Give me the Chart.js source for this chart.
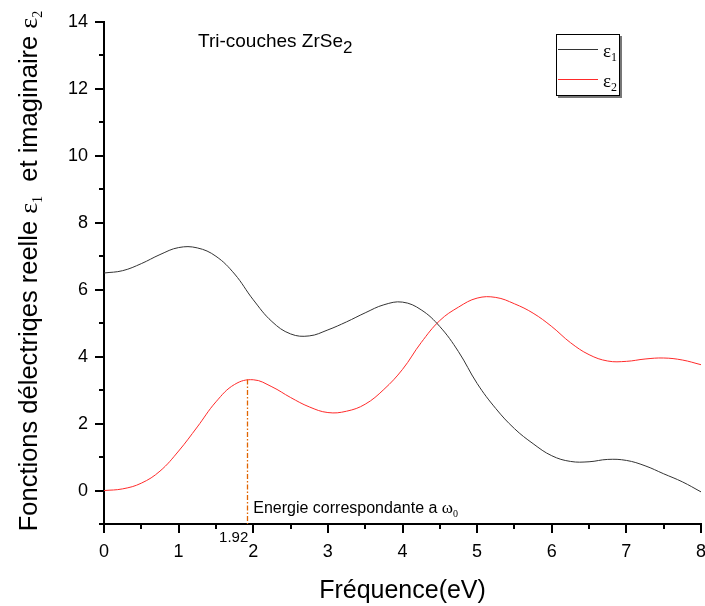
<!DOCTYPE html>
<html><head><meta charset="utf-8">
<script src="https://cdn.jsdelivr.net/npm/chart.js@4.4.0/dist/chart.umd.min.js"></script>
<style>html,body{margin:0;padding:0;background:#fff}#wrap{width:705px;height:606px}</style>
</head><body><div id="wrap"><canvas id="c" width="705" height="606"></canvas></div>
<script>
// ---- data ----
const energy = [0, 0.25, 0.5, 0.75, 1.0, 1.25, 1.5, 1.75, 2.0, 2.25, 2.5, 2.75, 3.0, 3.25, 3.5, 3.75, 4.0, 4.25, 4.5, 4.75, 5.0, 5.25, 5.5, 5.75, 6.0, 6.25, 6.5, 6.75, 7.0, 7.25, 7.5, 7.75, 8.0];
const eps1Values = [6.50, 6.57, 6.78, 7.05, 7.26, 7.25, 7.00, 6.47, 5.70, 5.05, 4.68, 4.62, 4.80, 5.04, 5.31, 5.55, 5.63, 5.40, 4.90, 4.15, 3.20, 2.45, 1.85, 1.40, 1.04, 0.87, 0.86, 0.93, 0.90, 0.74, 0.50, 0.26, -0.04];
const eps2Values = [0.00, 0.05, 0.22, 0.58, 1.18, 1.90, 2.65, 3.17, 3.31, 3.10, 2.78, 2.50, 2.33, 2.37, 2.58, 3.02, 3.62, 4.42, 5.08, 5.48, 5.75, 5.77, 5.58, 5.30, 4.90, 4.42, 4.06, 3.87, 3.86, 3.93, 3.96, 3.90, 3.76];
const xMajorTicks = [0, 1, 2, 3, 4, 5, 6, 7, 8];
const yMajorTicks = [0, 2, 4, 6, 8, 10, 12, 14];
const seriesNames = ['ε1', 'ε2'];
const markerEnergy = 1.92;
const markerValue = 3.32;
const markerLabel = '1.92';
const chartTitle = 'Tri-couches ZrSe';
const xTitle = 'Fréquence(eV)';

const SANS = 'Arial, "Liberation Sans", sans-serif';
const SERIF = '"Liberation Serif", "Times New Roman", serif';
const C1 = '#333333', C2 = '#ff2a2a';

function pts(xs, ys){ return xs.map((x,i)=>({x:x, y:ys[i]})); }

function drawRuns(ctx, runs, x, y){
  let cx = x;
  for (const r of runs){
    ctx.font = r.f;
    ctx.fillText(r.t, cx, y + (r.dy||0));
    cx += ctx.measureText(r.t).width;
  }
  return cx - x;
}
function runsWidth(ctx, runs){
  let w = 0;
  for (const r of runs){ ctx.font = r.f; w += ctx.measureText(r.t).width; }
  return w;
}

const decor = {
  id: 'decor',
  afterDraw(chart){
    const ctx = chart.ctx, xs = chart.scales.x, ys = chart.scales.y, ca = chart.chartArea;
    ctx.save();
    // tick marks (outward)
    ctx.strokeStyle = '#000'; ctx.lineWidth = 2;
    for (let v = -1; v <= 14; v++){
      const py = Math.round(ys.getPixelForValue(v));
      const len = yMajorTicks.includes(v) ? 9 : 5;
      ctx.beginPath(); ctx.moveTo(ca.left, py); ctx.lineTo(ca.left - len, py); ctx.stroke();
    }
    for (let v = 0; v <= 8; v += 0.5){
      const px = Math.round(xs.getPixelForValue(v));
      const len = xMajorTicks.includes(v) ? 9 : 5;
      ctx.beginPath(); ctx.moveTo(px, ca.bottom); ctx.lineTo(px, ca.bottom + len); ctx.stroke();
    }
    // marker dash-dot line
    const mx = xs.getPixelForValue(markerEnergy);
    ctx.strokeStyle = '#e06400'; ctx.lineWidth = 1.3; ctx.setLineDash([5,2,1.5,2]);
    ctx.beginPath(); ctx.moveTo(Math.round(mx)+0.5, ys.getPixelForValue(markerValue)); ctx.lineTo(Math.round(mx)+0.5, ca.bottom); ctx.stroke();
    ctx.setLineDash([]);
    // marker label
    ctx.fillStyle = '#000'; ctx.textBaseline = 'alphabetic';
    ctx.font = '15px ' + SANS; ctx.textAlign = 'right';
    ctx.fillText(markerLabel, mx + 1, ca.bottom + 18);
    ctx.textAlign = 'left';
    drawRuns(ctx, [
      {t:'Energie correspondante a ', f:'16px ' + SANS},
      {t:'ω', f:'17px ' + SERIF},
      {t:'0', f:'10px ' + SERIF, dy:4}
    ], mx + 6, ca.bottom - 11);
    // title
    drawRuns(ctx, [
      {t:chartTitle, f:'19px ' + SANS},
      {t:'2', f:'17px ' + SANS, dy:6}
    ], 198, 47);
    // legend box
    ctx.fillStyle = '#777';
    ctx.fillRect(620, 36, 2, 62);
    ctx.fillRect(558, 96, 64, 2);
    ctx.fillStyle = '#fff'; ctx.fillRect(556, 34, 64, 62);
    ctx.strokeStyle = '#000'; ctx.lineWidth = 1;
    ctx.strokeRect(556.5, 34.5, 63, 61);
    const legendRows = [{c:C1, y:49.5}, {c:C2, y:79.5}];
    legendRows.forEach((r,i)=>{
      ctx.strokeStyle = r.c; ctx.lineWidth = 1;
      ctx.beginPath(); ctx.moveTo(558, r.y); ctx.lineTo(598, r.y); ctx.stroke();
      ctx.fillStyle = '#000';
      drawRuns(ctx, [
        {t:seriesNames[i].charAt(0), f:'19px ' + SERIF},
        {t:seriesNames[i].slice(1), f:'12px ' + SERIF, dy:4}
      ], 603, r.y + 7);
    });
    // y-axis title (rotated, with subscripts)
    const yRuns = [
      {t:'Fonctions délectriqes reelle ', f:'25.5px ' + SANS},
      {t:'ε', f:'26px ' + SERIF},
      {t:'1', f:'14px ' + SERIF, dy:5},
      {t:'  et imaginaire ', f:'25.5px ' + SANS},
      {t:'ε', f:'26px ' + SERIF},
      {t:'2', f:'14px ' + SERIF, dy:5}
    ];
    const w = runsWidth(ctx, yRuns);
    ctx.translate(37, 271);
    ctx.rotate(-Math.PI / 2);
    ctx.fillStyle = '#000';
    drawRuns(ctx, yRuns, -w / 2, 0);
    ctx.restore();
  }
};

new Chart(document.getElementById('c'), {
  type: 'scatter',
  data: {
    datasets: [
      {label: seriesNames[0], data: pts(energy, eps1Values), showLine: true, borderColor: C1, borderWidth: 1, pointRadius: 0, tension: 0.4, fill: false},
      {label: seriesNames[1], data: pts(energy, eps2Values), showLine: true, borderColor: C2, borderWidth: 1, pointRadius: 0, tension: 0.4, fill: false}
    ]
  },
  options: {
    responsive: false, animation: false, devicePixelRatio: 1,
    layout: {padding: {top: 22, right: 4, left: 0, bottom: 0}},
    plugins: {legend: {display: false}, tooltip: {enabled: false}, title: {display: false}},
    scales: {
      x: {
        type: 'linear', min: 0, max: 8,
        grid: {display: false, drawTicks: false},
        border: {display: true, color: '#000', width: 2},
        ticks: {stepSize: 0.5, autoSkip: false, maxRotation: 0, padding: 17, color: '#000',
          font: {family: SANS, size: 18},
          callback: v => xMajorTicks.includes(v) ? String(v) : ''},
        title: {display: true, text: xTitle, color: '#000', font: {family: SANS, size: 25}, padding: {top: 0, bottom: 0}},
        afterFit(s){ s.height = 82; s.paddingLeft = 0; s.paddingRight = 0; }
      },
      y: {
        type: 'linear', min: -1, max: 14,
        grid: {display: false, drawTicks: false},
        border: {display: true, color: '#000', width: 2},
        ticks: {stepSize: 1, autoSkip: false, padding: 16, color: '#000',
          font: {family: SANS, size: 18},
          callback: v => yMajorTicks.includes(v) ? String(v) : ''},
        afterFit(s){ s.width = 104; s.paddingTop = 0; s.paddingBottom = 0; }
      }
    }
  },
  plugins: [decor]
});
</script>
</body></html>
